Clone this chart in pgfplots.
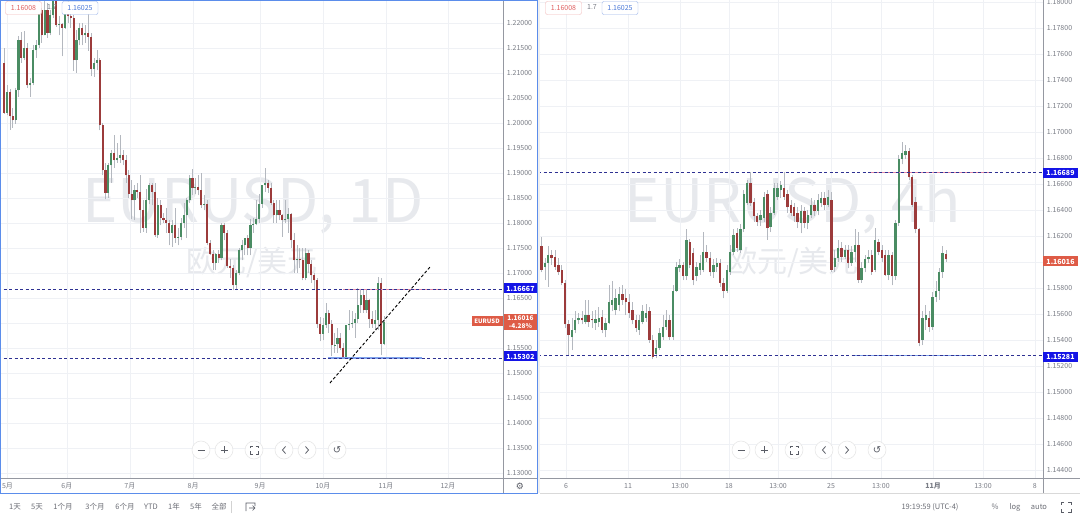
\documentclass[border=0pt]{standalone}
\usepackage{pgfplots}
\pgfplotsset{compat=1.18}
\usepackage{pgfplotstable}
\usepackage{fontspec}
\setmainfont{Noto Sans CJK SC}
\newfontfamily\symfont{DejaVu Sans}

\definecolor{upgreen}{HTML}{4A8C63}
\definecolor{downred}{HTML}{9C3B3B}
\definecolor{wick}{HTML}{B4B8BF}
\definecolor{gridc}{HTML}{EFF1F5}
\definecolor{axtext}{HTML}{7A7D86}
\definecolor{axline}{HTML}{9598A1}
\definecolor{navy}{HTML}{2E3192}
\definecolor{lvlblue}{HTML}{1414E6}
\definecolor{segblue}{HTML}{7FA2EC}
\definecolor{segpink}{HTML}{E48AA8}
\definecolor{lastred}{HTML}{DE5B46}
\definecolor{frameblue}{HTML}{5B8DEB}
\definecolor{wmark}{HTML}{E7E9ED}
\definecolor{legred}{HTML}{E06060}
\definecolor{legblue}{HTML}{4A78D8}
\definecolor{btn}{HTML}{5A5D66}

% EUR/USD daily bars, 30 Apr - 1 Nov (x = trading day)
\pgfplotstableread{
x o h l c
0 1.2120 1.2150 1.2018 1.2020
1 1.2020 1.2075 1.2015 1.2062
2 1.2062 1.2068 1.1986 1.2013
3 1.2013 1.2030 1.1990 1.2005
4 1.2005 1.2070 1.1998 1.2065
5 1.2065 1.2173 1.2052 1.2165
6 1.2165 1.2181 1.2120 1.2130
7 1.2130 1.2183 1.2125 1.2150
8 1.2150 1.2160 1.2070 1.2075
9 1.2075 1.2090 1.2052 1.2080
10 1.2080 1.2155 1.2075 1.2145
11 1.2145 1.2165 1.2130 1.2155
12 1.2155 1.2245 1.2150 1.2225
13 1.2225 1.2230 1.2160 1.2175
14 1.2175 1.2245 1.2175 1.2225
15 1.2225 1.2240 1.2170 1.2180
16 1.2180 1.2225 1.2175 1.2215
17 1.2215 1.2266 1.2210 1.2250
18 1.2250 1.2262 1.2192 1.2195
19 1.2195 1.2213 1.2175 1.2197
20 1.2197 1.2200 1.2133 1.2190
21 1.2190 1.2225 1.2188 1.2225
22 1.2225 1.2254 1.2200 1.2213
23 1.2213 1.2230 1.2190 1.2210
24 1.2210 1.2215 1.2104 1.2125
25 1.2125 1.2185 1.2100 1.2165
26 1.2165 1.2200 1.2155 1.2190
27 1.2190 1.2199 1.2155 1.2175
28 1.2175 1.2195 1.2160 1.2180
29 1.2180 1.2218 1.2144 1.2172
30 1.2172 1.2180 1.2093 1.2107
31 1.2107 1.2130 1.2092 1.2120
32 1.2120 1.2145 1.2105 1.2125
33 1.2125 1.2130 1.1985 1.1995
34 1.1995 1.2000 1.1895 1.1905
35 1.1905 1.1920 1.1847 1.1860
36 1.1860 1.1920 1.1850 1.1915
37 1.1915 1.1945 1.1880 1.1940
38 1.1940 1.1975 1.1910 1.1925
39 1.1925 1.1960 1.1920 1.1930
40 1.1930 1.1975 1.1920 1.1935
41 1.1935 1.1945 1.1915 1.1925
42 1.1925 1.1935 1.1880 1.1895
43 1.1895 1.1905 1.1850 1.1858
44 1.1858 1.1885 1.1807 1.1845
45 1.1845 1.1875 1.1805 1.1865
46 1.1865 1.1880 1.1850 1.1862
47 1.1862 1.1895 1.1780 1.1825
48 1.1825 1.1845 1.1782 1.1790
49 1.1790 1.1868 1.1780 1.1845
50 1.1845 1.1880 1.1837 1.1875
51 1.1875 1.1880 1.1835 1.1862
52 1.1862 1.1880 1.1772 1.1775
53 1.1775 1.1850 1.1770 1.1835
54 1.1835 1.1845 1.1795 1.1810
55 1.1810 1.1820 1.1800 1.1805
56 1.1805 1.1830 1.1780 1.1800
57 1.1800 1.1805 1.1755 1.1780
58 1.1780 1.1805 1.1752 1.1795
59 1.1795 1.1830 1.1760 1.1770
60 1.1770 1.1790 1.1755 1.1772
61 1.1772 1.1810 1.1765 1.1800
62 1.1800 1.1840 1.1790 1.1815
63 1.1815 1.1850 1.1770 1.1845
64 1.1845 1.1895 1.1840 1.1890
65 1.1890 1.1908 1.1855 1.1870
66 1.1870 1.1890 1.1857 1.1872
67 1.1872 1.1895 1.1855 1.1865
68 1.1865 1.1900 1.1830 1.1835
69 1.1835 1.1855 1.1825 1.1837
70 1.1837 1.1845 1.1755 1.1760
71 1.1760 1.1765 1.1735 1.1737
72 1.1737 1.1745 1.1705 1.1720
73 1.1720 1.1740 1.1705 1.1738
74 1.1738 1.1745 1.1720 1.1730
75 1.1730 1.1800 1.1725 1.1795
76 1.1795 1.1800 1.1765 1.1780
77 1.1780 1.1785 1.1710 1.1713
78 1.1713 1.1727 1.1690 1.1710
79 1.1710 1.1715 1.1665 1.1675
80 1.1675 1.1705 1.1665 1.1700
81 1.1700 1.1750 1.1695 1.1745
82 1.1745 1.1765 1.1725 1.1755
83 1.1755 1.1770 1.1735 1.1770
84 1.1770 1.1775 1.1735 1.1750
85 1.1750 1.1808 1.1735 1.1795
86 1.1795 1.1810 1.1780 1.1798
87 1.1798 1.1845 1.1795 1.1808
88 1.1808 1.1857 1.1800 1.1838
89 1.1838 1.1875 1.1830 1.1875
90 1.1875 1.1909 1.1862 1.1880
91 1.1880 1.1885 1.1860 1.1870
92 1.1870 1.1880 1.1835 1.1840
93 1.1840 1.1845 1.1800 1.1815
94 1.1815 1.1845 1.1800 1.1825
95 1.1825 1.1845 1.1805 1.1815
96 1.1815 1.1818 1.1772 1.1805
97 1.1805 1.1846 1.1800 1.1807
98 1.1807 1.1830 1.1780 1.1818
99 1.1818 1.1820 1.1750 1.1765
100 1.1765 1.1780 1.1700 1.1725
101 1.1725 1.1755 1.1700 1.1727
102 1.1727 1.1750 1.1710 1.1725
103 1.1725 1.1750 1.1685 1.1690
104 1.1690 1.1750 1.1685 1.1740
105 1.1740 1.1745 1.1700 1.1718
106 1.1718 1.1725 1.1680 1.1695
107 1.1695 1.1700 1.1665 1.1685
108 1.1685 1.1690 1.1590 1.1597
109 1.1597 1.1612 1.1563 1.1578
110 1.1578 1.1610 1.1565 1.1595
111 1.1595 1.1640 1.1590 1.1620
112 1.1620 1.1625 1.1580 1.1598
113 1.1598 1.1605 1.1533 1.1555
114 1.1555 1.1580 1.1540 1.1557
115 1.1557 1.1590 1.1540 1.1570
116 1.1570 1.1580 1.1545 1.1550
117 1.1550 1.1560 1.1529 1.1531
118 1.1531 1.1595 1.1530 1.1595
119 1.1595 1.1625 1.1585 1.1597
120 1.1597 1.1625 1.1590 1.1600
121 1.1600 1.1620 1.1570 1.1608
122 1.1608 1.1670 1.1600 1.1635
123 1.1635 1.1668 1.1620 1.1655
124 1.1655 1.1668 1.1620 1.1625
125 1.1625 1.1665 1.1620 1.1645
126 1.1645 1.1647 1.1590 1.1607
127 1.1607 1.1625 1.1590 1.1597
128 1.1597 1.1625 1.1585 1.1605
129 1.1605 1.1692 1.1585 1.1680
130 1.1680 1.1690 1.1535 1.1558
131 1.1558 1.1615 1.1555 1.1602
}\daily

% EUR/USD 4-hour bars, 4 Oct - 1 Nov (x = bar number)
\pgfplotstableread{
x o h l c
0 1.1612 1.1619 1.1592 1.1594
1 1.1596 1.1603 1.1586 1.1599
2 1.1599 1.1612 1.1581 1.1605
3 1.1605 1.1609 1.1598 1.1603
4 1.1604 1.1609 1.1594 1.1596
5 1.1598 1.1603 1.1590 1.1592
6 1.1594 1.1598 1.1582 1.1584
7 1.1584 1.1586 1.1549 1.1552
8 1.1552 1.1555 1.1528 1.1544
9 1.1542 1.1557 1.1532 1.1548
10 1.1548 1.1562 1.1545 1.1555
11 1.1555 1.1561 1.1552 1.1557
12 1.1557 1.1562 1.1552 1.1555
13 1.1554 1.1571 1.1552 1.1559
14 1.1559 1.1571 1.1550 1.1554
15 1.1556 1.1562 1.1549 1.1555
16 1.1553 1.1563 1.1548 1.1556
17 1.1554 1.1565 1.1550 1.1557
18 1.1558 1.1563 1.1545 1.1548
19 1.1548 1.1557 1.1542 1.1553
20 1.1553 1.1582 1.1552 1.1569
21 1.1567 1.1585 1.1562 1.1571
22 1.1563 1.1579 1.1559 1.1572
23 1.1567 1.1581 1.1562 1.1575
24 1.1575 1.1582 1.1567 1.1571
25 1.1572 1.1579 1.1559 1.1569
26 1.1569 1.1575 1.1557 1.1561
27 1.1563 1.1569 1.1552 1.1555
28 1.1555 1.1559 1.1546 1.1549
29 1.1548 1.1559 1.1544 1.1555
30 1.1554 1.1567 1.1552 1.1562
31 1.1557 1.1568 1.1554 1.1561
32 1.1562 1.1565 1.1538 1.1540
33 1.1540 1.1544 1.1525 1.1527
34 1.1529 1.1540 1.1526 1.1534
35 1.1534 1.1549 1.1532 1.1545
36 1.1542 1.1559 1.1540 1.1550
37 1.1550 1.1563 1.1548 1.1555
38 1.1555 1.1559 1.1540 1.1542
39 1.1542 1.1582 1.1540 1.1578
40 1.1578 1.1600 1.1577 1.1596
41 1.1595 1.1602 1.1592 1.1598
42 1.1598 1.1600 1.1586 1.1589
43 1.1589 1.1625 1.1586 1.1617
44 1.1615 1.1618 1.1595 1.1598
45 1.1607 1.1611 1.1582 1.1586
46 1.1589 1.1600 1.1585 1.1596
47 1.1594 1.1605 1.1590 1.1599
48 1.1594 1.1623 1.1592 1.1608
49 1.1608 1.1613 1.1600 1.1603
50 1.1603 1.1608 1.1589 1.1592
51 1.1592 1.1602 1.1588 1.1598
52 1.1596 1.1603 1.1592 1.1599
53 1.1599 1.1602 1.1581 1.1584
54 1.1584 1.1588 1.1572 1.1578
55 1.1578 1.1598 1.1576 1.1594
56 1.1592 1.1613 1.1590 1.1608
57 1.1608 1.1625 1.1605 1.1621
58 1.1622 1.1626 1.1608 1.1611
59 1.1609 1.1629 1.1607 1.1625
60 1.1625 1.1655 1.1623 1.1652
61 1.1645 1.1663 1.1644 1.1661
62 1.1661 1.1669 1.1643 1.1645
63 1.1646 1.1649 1.1631 1.1635
64 1.1635 1.1638 1.1628 1.1631
65 1.1632 1.1640 1.1628 1.1636
66 1.1634 1.1654 1.1631 1.1650
67 1.1652 1.1655 1.1617 1.1626
68 1.1627 1.1642 1.1623 1.1638
69 1.1638 1.1661 1.1636 1.1657
70 1.1650 1.1661 1.1648 1.1657
71 1.1655 1.1662 1.1649 1.1659
72 1.1657 1.1669 1.1648 1.1650
73 1.1652 1.1655 1.1638 1.1642
74 1.1644 1.1648 1.1635 1.1638
75 1.1642 1.1645 1.1631 1.1635
76 1.1638 1.1642 1.1626 1.1631
77 1.1630 1.1644 1.1622 1.1639
78 1.1639 1.1642 1.1626 1.1630
79 1.1630 1.1640 1.1625 1.1636
80 1.1636 1.1649 1.1634 1.1644
81 1.1644 1.1648 1.1635 1.1639
82 1.1639 1.1652 1.1636 1.1648
83 1.1645 1.1654 1.1642 1.1649
84 1.1649 1.1654 1.1640 1.1644
85 1.1644 1.1655 1.1642 1.1650
86 1.1648 1.1654 1.1592 1.1594
87 1.1596 1.1609 1.1592 1.1603
88 1.1603 1.1617 1.1600 1.1611
89 1.1611 1.1615 1.1600 1.1604
90 1.1604 1.1613 1.1602 1.1609
91 1.1609 1.1613 1.1595 1.1599
92 1.1599 1.1612 1.1597 1.1608
93 1.1608 1.1625 1.1600 1.1613
94 1.1613 1.1623 1.1584 1.1586
95 1.1586 1.1600 1.1584 1.1595
96 1.1595 1.1605 1.1592 1.1602
97 1.1602 1.1609 1.1599 1.1604
98 1.1605 1.1609 1.1590 1.1592
99 1.1594 1.1626 1.1592 1.1617
100 1.1615 1.1618 1.1605 1.1608
101 1.1609 1.1613 1.1600 1.1603
102 1.1605 1.1609 1.1589 1.1590
103 1.1590 1.1609 1.1586 1.1605
104 1.1605 1.1608 1.1582 1.1589
105 1.1589 1.1632 1.1586 1.1630
106 1.1630 1.1682 1.1628 1.1679
107 1.1679 1.1692 1.1675 1.1684
108 1.1682 1.1690 1.1679 1.1685
109 1.1685 1.1688 1.1663 1.1665
110 1.1665 1.1667 1.1642 1.1644
111 1.1646 1.1650 1.1622 1.1625
112 1.1625 1.1626 1.1535 1.1538
113 1.1540 1.1562 1.1536 1.1557
114 1.1555 1.1567 1.1548 1.1559
115 1.1557 1.1562 1.1546 1.1550
116 1.1550 1.1577 1.1548 1.1573
117 1.1573 1.1585 1.1569 1.1578
118 1.1578 1.1595 1.1571 1.1592
119 1.1592 1.1612 1.1588 1.1607
120 1.1606 1.1609 1.1600 1.1602
}\fourh

\pgfplotsset{
  wicks/.style={draw=none, mark=none, forget plot,
    error bars/.cd, y dir=plus, y explicit, error mark=none,
    error bar style={draw=wick, line width=0.6pt}},
  bodies/.style 2 args={draw=none, mark=none, forget plot,
    error bars/.cd, y dir=plus, y explicit, error mark=none,
    error bar style={draw=#1, line width=#2}},
  tvpanel/.style={
    anchor=south west, scale only axis, width=503pt, height=478pt,
    axis x line*=bottom, axis y line*=right, axis line style={draw=none},
    major tick length=0pt,
    grid=major, major grid style={draw=gridc, line width=0.6pt},
    tick label style={font=\fontsize{7}{8}\selectfont, text=axtext},
    yticklabel style={anchor=center, xshift=16.5pt},
    xticklabel style={anchor=center, yshift=-8pt},
  },
  level/.style={navy, line width=0.6pt, dash pattern=on 3pt off 2.5pt, forget plot},
}

% wicks, then rising and falling bodies of one table
\newcommand\candles[2]{%
  \addplot[wicks] table[x=x, y=l, y error plus expr=\thisrow{h}-\thisrow{l}] {#1};
  \addplot[bodies={upgreen}{#2}] table[x expr={\thisrow{c}>=\thisrow{o} ? \thisrow{x} : nan},
    y=o, y error plus expr={max(\thisrow{c}-\thisrow{o},0.00012)}] {#1};
  \addplot[bodies={downred}{#2}] table[x expr={\thisrow{c}<\thisrow{o} ? \thisrow{x} : nan},
    y=c, y error plus expr={\thisrow{o}-\thisrow{c}}] {#1};
}

\newcommand\navbuttons[1]{%
  \begin{scope}[shift={(#1,70)}]
    \foreach \dx in {0,23,53,83,106,136}
      \filldraw[fill=white, draw=gray!20, line width=0.5pt] (\dx,0) circle (9);
    \draw[btn, line width=0.8pt] (-3.5,0)--(3.5,0);
    \draw[btn, line width=0.8pt] (19.5,0)--(26.5,0) (23,-3.5)--(23,3.5);
    \draw[btn, line width=0.8pt] (49,1.5)--(49,4)--(51.5,4) (54.5,4)--(57,4)--(57,1.5)
      (57,-1.5)--(57,-4)--(54.5,-4) (51.5,-4)--(49,-4)--(49,-1.5);
    \draw[btn, line width=0.8pt] (84.5,3.5)--(81.5,0)--(84.5,-3.5);
    \draw[btn, line width=0.8pt] (104.5,3.5)--(107.5,0)--(104.5,-3.5);
    \node[text=btn, font=\symfont\fontsize{10}{10}\selectfont] at (136,0) {↺};
  \end{scope}}

\newcommand\legendboxes[1]{%
  \node[draw=legred!45, text=legred, fill=white, rounded corners=2pt, inner sep=0pt,
    minimum width=36pt, minimum height=13pt, font=\fontsize{7}{8}\selectfont] at (#1+18.5,512) {1.16008};
  \node[text=axtext, font=\fontsize{7}{8}\selectfont] at (#1+47,512.5) {1.7};
  \node[draw=legblue!55, text=legblue, fill=white, rounded corners=2pt, inner sep=0pt,
    minimum width=36pt, minimum height=13pt, font=\fontsize{7}{8}\selectfont] at (#1+75,512) {1.16025};
}

\begin{document}
\begin{tikzpicture}[x=1pt, y=1pt]
\path[use as bounding box] (0pt,0pt) rectangle (1080pt,520pt);
\fill[white] (0,0) rectangle (1080,520);
\fill[gray!12] (537,27) rectangle (540,520);

% watermarks
\node[text=wmark, anchor=base, font=\fontsize{60}{60}\selectfont] at (253,297) {EURUSD, 1D};
\node[text=wmark, font=\fontsize{30}{30}\selectfont] at (252,257) {欧元/美元};
\node[text=wmark, anchor=base, font=\fontsize{60}{60}\selectfont] at (793,297) {EURUSD, 4h};
\node[text=wmark, font=\fontsize{30}{30}\selectfont] at (793,257) {欧元/美元};

% daily panel (the 1.16 label sits under the last-price tag)
\begin{axis}[tvpanel, at={(0pt,42pt)},
  xmin=-1.38, xmax=172.07, ymin=1.129, ymax=1.2246,
  xtick={1.2,21.7,43.4,65.2,88.3,110,131.7,153.1},
  xticklabels={5月,6月,7月,8月,9月,10月,11月,12月},
  ytick={1.13,1.135,1.14,1.145,1.15,1.155,1.16,1.165,1.17,1.175,1.18,1.185,1.19,1.195,1.2,1.205,1.21,1.215,1.22},
  yticklabels={1.13000,1.13500,1.14000,1.14500,1.15000,1.15500,{},1.16500,1.17000,1.17500,1.18000,1.18500,1.19000,1.19500,1.20000,1.20500,1.21000,1.21500,1.22000}]
\candles{\daily}{2.1pt}
\addplot[segpink, line width=1.2pt, forget plot] coordinates {(117,1.16667) (152.4,1.16667)};
\addplot[level] coordinates {(-2,1.16667) (173,1.16667)};
\addplot[segblue, line width=1.6pt, forget plot] coordinates {(111.6,1.15302) (144.2,1.15302)};
\addplot[level] coordinates {(-2,1.15302) (173,1.15302)};
\addplot[black, line width=0.9pt, dash pattern=on 3pt off 2pt, forget plot]
  coordinates {(112.4,1.1480) (146.9,1.1712)};
\end{axis}

% 4-hour panel
\begin{axis}[tvpanel, at={(540pt,42pt)},
  xmin=-0.445, xmax=148.8, ymin=1.14338, ymax=1.18015,
  xtick={7.3,25.7,41.1,55.6,70.2,85.9,100.7,116.2,131,146.4},
  xticklabels={6,11,13:00,18,13:00,25,13:00,{\bfseries 11月},13:00,8},
  ytick={1.144,1.146,1.148,1.15,1.152,1.154,1.156,1.158,1.16,1.162,1.164,1.166,1.168,1.17,1.172,1.174,1.176,1.178,1.18},
  yticklabels={1.14400,1.14600,1.14800,1.15000,1.15200,1.15400,1.15600,1.15800,{},1.16200,1.16400,1.16600,1.16800,1.17000,1.17200,1.17400,1.17600,1.17800,1.18000}]
\candles{\fourh}{2.4pt}
\addplot[segpink, line width=1.2pt, forget plot] coordinates {(97.8,1.16689) (133.7,1.16689)};
\addplot[level] coordinates {(-1,1.16689) (150,1.16689)};
\addplot[segblue, line width=1.6pt, forget plot] coordinates {(92.1,1.15281) (128,1.15281)};
\addplot[level] coordinates {(-1,1.15281) (150,1.15281)};
\end{axis}

% scale separators and frames
\draw[axline, line width=0.7pt] (503,27) -- (503,520);
\draw[axline, line width=0.7pt] (0,42) -- (537,42);
\draw[axline, line width=0.7pt] (1043,27) -- (1043,520);
\draw[axline, line width=0.7pt] (540,42) -- (1080,42);
\draw[gray!30, line width=0.6pt] (540,27) -- (1080,27);
\draw[frameblue, line width=1pt] (0.5,27) rectangle (537,519.5);

% price scale tags
\begin{scope}[every node/.style={text=white, inner sep=0pt, font=\fontsize{7}{8}\selectfont\bfseries}]
\node[fill=lvlblue, minimum width=33pt, minimum height=10pt] at (520.5,231.5) {1.16667};
\node[fill=lvlblue, minimum width=33pt, minimum height=10pt] at (520.5,163.5) {1.15302};
\node[fill=lastred, minimum width=33pt, minimum height=16pt, align=center,
  font=\fontsize{6.5}{7.5}\selectfont\bfseries] at (520.5,198) {1.16016\\-4.28\%};
\node[fill=lastred, minimum width=31pt, minimum height=10pt,
  font=\fontsize{6}{7}\selectfont\bfseries] at (487,199) {EURUSD};
\node[fill=lvlblue, minimum width=35pt, minimum height=10pt] at (1060.5,347) {1.16689};
\node[fill=lastred, minimum width=35pt, minimum height=10pt] at (1060.5,258.5) {1.16016};
\node[fill=lvlblue, minimum width=35pt, minimum height=10pt] at (1060.5,163) {1.15281};
\end{scope}

\legendboxes{5}
\legendboxes{545}

\navbuttons{201}
\navbuttons{741}

\node[text=btn, font=\symfont\fontsize{9}{9}\selectfont] at (520,34) {⚙};

% bottom toolbar
\begin{scope}[every node/.style={text=btn!90, font=\fontsize{7.5}{8}\selectfont}]
\node at (15,13) {1天};
\node at (37,13) {5天};
\node at (63,13) {1个月};
\node at (95,13) {3个月};
\node at (125,13) {6个月};
\node at (151,13) {YTD};
\node at (174,13) {1年};
\node at (196,13) {5年};
\node at (219,13) {全部};
\node at (930,13) {19:19:59 (UTC-4)};
\node at (995,13) {\%};
\node at (1015,13) {log};
\node at (1039,13) {auto};
\end{scope}
\draw[gray!35, line width=0.6pt] (231,7) -- (231,19);
\draw[btn, line width=0.7pt] (246,9) -- (246,17) -- (255,17) -- (255,14) (249,12) -- (255,12) (252.5,14.5) -- (255,12) -- (252.5,9.5);
\draw[btn, line width=0.7pt] (1061,11) -- (1061,8) -- (1064,8) (1068,8) -- (1071,8) -- (1071,11)
  (1071,15) -- (1071,18) -- (1068,18) (1064,18) -- (1061,18) -- (1061,15);
\end{tikzpicture}
\end{document}
